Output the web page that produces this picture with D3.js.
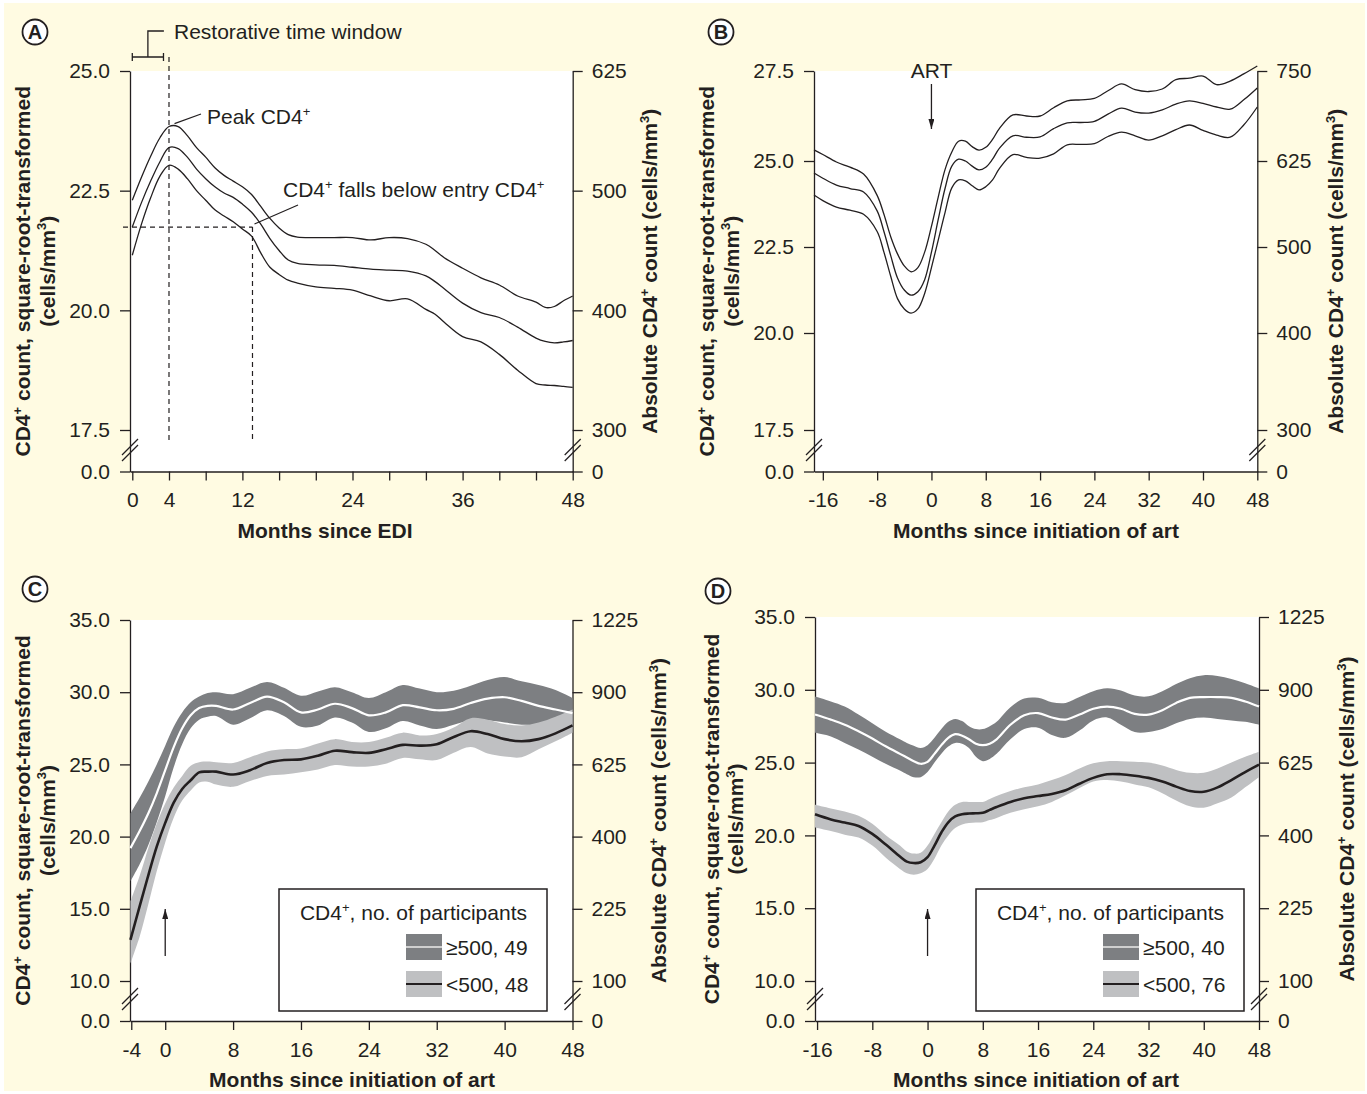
<!DOCTYPE html>
<meta charset="utf-8">
<style>
    body { margin: 0; background: #fff; }
    svg text { font-family: "Liberation Sans", Arial, Helvetica, sans-serif; fill: #231f20; }
</style>
<body>
<script src="https://cdn.jsdelivr.net/npm/d3@7/dist/d3.min.js"></script>
<script>
var width = 1367
var height = 1094
var ink = '#231f20'
var dark = '#7d7f82'
var light = '#bfc0c2'
var paper = '#fffbe2'
var fs = 21

// ---- A: months since EDI (upper limit, mean, lower limit)
var monthsA = [0, 1, 2, 3, 4, 5, 6, 7, 8, 9, 10, 11, 12, 13, 14, 15, 16, 17, 18, 20, 22, 24, 26, 28, 30, 32, 33, 34, 36, 38, 40, 42, 44, 45, 46, 47, 48]
var upperA = [22.30, 22.78, 23.22, 23.6, 23.84, 23.84, 23.65, 23.4, 23.2, 22.98, 22.82, 22.7, 22.58, 22.42, 22.17, 21.92, 21.72, 21.58, 21.53, 21.52, 21.52, 21.52, 21.47, 21.52, 21.5, 21.38, 21.25, 21.1, 20.88, 20.68, 20.53, 20.3, 20.17, 20.06, 20.08, 20.2, 20.3]
var meanA = [21.74, 22.25, 22.7, 23.1, 23.4, 23.38, 23.2, 22.95, 22.75, 22.58, 22.45, 22.36, 22.22, 22.05, 21.8, 21.5, 21.25, 21.05, 20.98, 20.95, 20.94, 20.9, 20.86, 20.84, 20.82, 20.72, 20.6, 20.45, 20.15, 19.95, 19.85, 19.65, 19.42, 19.35, 19.32, 19.34, 19.37]
var lowerA = [21.15, 21.8, 22.35, 22.8, 23.03, 22.95, 22.75, 22.5, 22.3, 22.1, 21.97, 21.85, 21.7, 21.55, 21.2, 20.9, 20.75, 20.63, 20.57, 20.49, 20.46, 20.42, 20.3, 20.2, 20.24, 20.02, 19.92, 19.75, 19.45, 19.34, 19.08, 18.75, 18.47, 18.44, 18.43, 18.41, 18.39]
var yTicksA = [0, 17.5, 20, 22.5, 25]
var rightLabelsA = ['0', '300', '400', '500', '625']
var xTicksA = [0, 4, 8, 12, 16, 20, 24, 28, 32, 36, 40, 44, 48]
var xLabelsA = [0, 4, 12, 24, 36, 48]
var peakMonthA = 4
var crossMonthA = 13.1
var windowA = [0, 3.4]

// ---- B: months since initiation of ART
var monthsB = [-17.3, -16, -14, -12, -10, -8, -7, -6, -5, -4, -3, -2, -1, 0, 1, 2, 3, 4, 5, 6, 7, 8, 9, 10, 12, 14, 16, 18, 20, 22, 24, 26, 28, 30, 32, 34, 36, 38, 40, 42, 44, 46, 48]
var upperB = [25.31, 25.18, 24.97, 24.82, 24.62, 24.0, 23.45, 22.8, 22.3, 21.95, 21.78, 21.9, 22.35, 23.1, 23.95, 24.75, 25.25, 25.55, 25.55, 25.4, 25.3, 25.38, 25.6, 25.9, 26.28, 26.25, 26.25, 26.48, 26.67, 26.7, 26.74, 26.95, 27.14, 26.98, 26.93, 27.0, 27.26, 27.3, 27.36, 27.12, 27.22, 27.42, 27.64]
var meanB = [24.65, 24.5, 24.3, 24.2, 24.1, 23.55, 22.95, 22.25, 21.6, 21.25, 21.1, 21.2, 21.55, 22.35, 23.3, 24.2, 24.85, 25.05, 25.0, 24.85, 24.74, 24.82, 25.05, 25.35, 25.7, 25.66, 25.67, 25.9, 26.06, 26.07, 26.1, 26.3, 26.47, 26.36, 26.33, 26.42, 26.58, 26.67, 26.6, 26.5, 26.44, 26.7, 27.03]
var lowerB = [24.01, 23.85, 23.66, 23.57, 23.45, 22.95, 22.35, 21.65, 21.0, 20.7, 20.58, 20.7, 21.15, 21.9, 22.7, 23.5, 24.22, 24.45, 24.42, 24.28, 24.16, 24.25, 24.45, 24.78, 25.18, 25.1, 25.08, 25.2, 25.45, 25.46, 25.48, 25.68, 25.8, 25.7, 25.58, 25.7, 25.87, 26.0, 25.85, 25.72, 25.66, 26.0, 26.5]
var yTicksB = [0, 17.5, 20, 22.5, 25, 27.5]
var rightLabelsB = ['0', '300', '400', '500', '625', '750']
var xTicksB = [-16, -8, 0, 8, 16, 24, 32, 40, 48]

// ---- C: entry CD4 >=500 (dark band, white mean) and <500 (light band, black mean)
var monthsC = [-4.1, -3, -2, -1, 0, 1, 2, 3, 4, 5, 6, 8, 10, 12, 14, 16, 18, 20, 22, 24, 26, 28, 30, 32, 34, 36, 38, 40, 42, 44, 46, 48]
var hiTopC = [21.6, 22.7, 23.8, 25.0, 26.3, 27.6, 28.6, 29.3, 29.7, 29.95, 30.0, 29.86, 30.3, 30.7, 30.3, 29.75, 30.05, 30.35, 30.0, 29.6, 30.0, 30.5, 30.25, 30.0, 30.1, 30.45, 30.85, 31.05, 30.75, 30.5, 30.15, 29.6]
var hiMeanC = [19.2, 20.4, 21.6, 23.0, 24.6, 26.2, 27.5, 28.4, 28.9, 29.05, 29.05, 28.8, 29.25, 29.7, 29.3, 28.6, 28.8, 29.2, 28.9, 28.4, 28.6, 29.1, 28.95, 28.75, 28.85, 29.25, 29.55, 29.65, 29.4, 29.05, 28.8, 28.55]
var hiLowC = [16.9, 18.1, 19.4, 21.0, 22.8, 24.8, 26.4, 27.5, 28.1, 28.3, 28.35, 27.75, 28.2, 28.75, 28.35, 27.6, 27.7, 28.25, 27.9, 27.25, 27.5, 28.0, 27.7, 27.45, 27.75, 28.05, 28.05, 27.9, 27.75, 27.7, 27.5, 27.5]
var loTopC = [15.5, 17.3, 19.2, 20.9, 22.3, 23.4, 24.2, 24.9, 25.15, 25.2, 25.15, 25.1, 25.5, 25.9, 26.05, 26.1, 26.45, 26.75, 26.55, 26.55, 26.85, 27.2, 27.0, 27.1, 27.55, 28.2, 28.1, 27.8, 27.7, 27.9, 28.3, 28.8]
var loMeanC = [12.85, 15.2, 17.3, 19.3, 20.95, 22.35, 23.3, 23.9, 24.45, 24.5, 24.5, 24.3, 24.6, 25.1, 25.3, 25.35, 25.6, 25.95, 25.85, 25.8, 26.05, 26.35, 26.3, 26.4, 26.9, 27.3, 27.1, 26.75, 26.6, 26.75, 27.15, 27.7]
var loLowC = [11.2, 13.1, 15.3, 17.6, 19.6, 21.3, 22.5, 23.2, 23.75, 23.8, 23.6, 23.45, 23.85, 24.2, 24.3, 24.45, 24.65, 24.95, 24.85, 24.85, 25.05, 25.45, 25.35, 25.3, 25.8, 26.2, 25.75, 25.55, 25.5, 26.05, 26.6, 27.2]
var legendC = ['\u2265500, 49', '<500, 48']
var xTicksC = [-4, 0, 8, 16, 24, 32, 40, 48]

// ---- D
var monthsD = [-16.3, -14, -12, -10, -8, -6, -4, -3, -2, -1, 0, 1, 2, 3, 4, 5, 6, 7, 8, 9, 10, 12, 14, 16, 18, 20, 22, 24, 26, 28, 30, 32, 34, 36, 38, 40, 42, 44, 46, 48]
var hiTopD = [29.54, 29.2, 28.85, 28.3, 27.7, 27.1, 26.6, 26.35, 26.15, 26.0, 26.2, 26.7, 27.3, 27.8, 28.0, 27.85, 27.5, 27.3, 27.3, 27.5, 27.8, 28.8, 29.4, 29.45, 29.15, 29.1, 29.5, 29.9, 30.1, 29.95, 29.6, 29.55, 29.9, 30.4, 30.8, 31.0, 30.95, 30.75, 30.45, 30.1]
var hiMeanD = [28.3, 27.95, 27.6, 27.15, 26.65, 26.1, 25.6, 25.35, 25.1, 24.92, 25.05, 25.6, 26.2, 26.7, 26.95, 26.85, 26.6, 26.3, 26.2, 26.3, 26.6, 27.6, 28.25, 28.4, 28.1, 27.95, 28.3, 28.7, 28.85, 28.7, 28.35, 28.3, 28.6, 29.1, 29.45, 29.5, 29.5, 29.45, 29.2, 28.85]
var hiLowD = [27.05, 26.8, 26.35, 25.9, 25.4, 24.9, 24.45, 24.2, 24.0, 24.0, 24.35, 25.0, 25.6, 26.1, 26.35, 26.3, 26.0, 25.4, 25.1, 25.25, 25.6, 26.6, 27.3, 27.4, 26.9, 26.7, 27.2, 27.9, 28.1, 27.6, 27.1, 27.1, 27.3, 27.7, 28.0, 28.1, 28.0, 27.9, 27.8, 27.6]
var loTopD = [22.1, 21.85, 21.65, 21.35, 20.8, 20.0, 19.3, 18.9, 18.75, 18.8, 19.3, 20.1, 20.9, 21.65, 22.1, 22.3, 22.3, 22.3, 22.3, 22.5, 22.7, 23.05, 23.3, 23.5, 23.8, 24.15, 24.6, 24.95, 25.1, 25.1, 25.05, 25.0, 24.8, 24.5, 24.3, 24.3, 24.6, 25.0, 25.4, 25.75]
var loMeanD = [21.45, 21.1, 20.88, 20.65, 20.1, 19.35, 18.55, 18.2, 18.1, 18.15, 18.5, 19.3, 20.2, 20.9, 21.3, 21.45, 21.5, 21.52, 21.55, 21.75, 21.95, 22.3, 22.55, 22.7, 22.85, 23.1, 23.55, 23.95, 24.2, 24.2, 24.1, 23.95, 23.7, 23.35, 23.05, 23.0, 23.3, 23.8, 24.35, 24.86]
var loLowD = [20.55, 20.3, 20.05, 19.85, 19.3, 18.45, 17.7, 17.4, 17.3, 17.4, 17.7, 18.4, 19.3, 20.0, 20.5, 20.75, 20.85, 20.88, 20.9, 21.05, 21.2, 21.55, 21.8, 22.0, 22.3, 22.75, 23.25, 23.7, 23.8, 23.7, 23.5, 23.3, 22.9, 22.4, 22.0, 21.9, 22.2, 22.6, 23.3, 24.0]
var legendD = ['\u2265500, 40', '<500, 76']
var xTicksD = [-16, -8, 0, 8, 16, 24, 32, 40, 48]

var yTicksCD = [0, 10, 15, 20, 25, 30, 35]
var rightTicksCD = [0, 100, 225, 400, 625, 900, 1225]

// ---- scales
var xA = d3.scaleLinear().domain([-0.25, 48]).range([130, 572.7])
var yA = d3.scaleLinear().domain([0, 17.5, 25]).range([471.5, 430, 71])
var xB = d3.scaleLinear().domain([-17.3, 48]).range([814, 1257.3])
var yB = d3.scaleLinear().domain([0, 17.5, 20, 22.5, 25, 27.5]).range([471.5, 430, 333, 247, 161, 71])
var xC = d3.scaleLinear().domain([-4.15, 48]).range([130, 572.5])
var yC = d3.scaleLinear().domain([0, 10, 35]).range([1021, 981, 620])
var xD = d3.scaleLinear().domain([-16.3, 48]).range([815, 1259])
var yD = d3.scaleLinear().domain([0, 10, 35]).range([1021, 981, 617])
var rC = d3.scalePow().exponent(0.5).domain([0, 100, 1225]).range(yC.range())
var rD = d3.scalePow().exponent(0.5).domain([0, 100, 1225]).range(yD.range())

var svg = d3.select('body').append('svg')
    .attr('width', width)
    .attr('height', height)
    .attr('font-family', '"Liberation Sans", Arial, Helvetica, sans-serif')

svg.append('rect').attr('width', width).attr('height', height).attr('fill', '#fff')
svg.append('rect').attr('x', 4).attr('y', 3).attr('width', 1361).attr('height', 1088).attr('fill', paper)

var defs = svg.append('defs')
defs.append('marker')
    .attr('id', 'head')
    .attr('viewBox', '0 0 10 6')
    .attr('refX', 10).attr('refY', 3)
    .attr('markerWidth', 10).attr('markerHeight', 6)
    .attr('markerUnits', 'userSpaceOnUse')
    .attr('orient', 'auto')
    .append('path').attr('d', 'M0,0L10,3L0,6Z').attr('fill', ink)

// text with superscript parts: [[text], [text, true]]
function rich(t, parts, size) {
    var up = false
    parts.forEach(function (p) {
        var s = t.append('tspan').text(p[0])
        if (p[1]) {
            s.attr('font-size', Math.round(size * 0.62)).attr('dy', -size * 0.4)
            up = true
        } else if (up) {
            s.attr('dy', size * 0.4)
            up = false
        }
    })
    return t
}

function styleAxis(g) {
    g.attr('font-size', fs).attr('font-family', null).attr('color', ink)
    g.selectAll('path, line').attr('stroke-width', 1.3)
}

function breakMark(x, y) {
    [-3, 3].forEach(function (o) {
        svg.append('line')
            .attr('x1', x - 8).attr('y1', y + o + 8)
            .attr('x2', x + 8).attr('y2', y + o - 8)
            .attr('stroke', ink).attr('stroke-width', 1.2)
    })
}

function panel(p) {
    var x0 = p.x.range()[0], x1 = p.x.range()[1]
    var yr = p.y.range(), yb = yr[0], yt = yr[yr.length - 1]

    svg.append('rect').attr('x', x0).attr('y', yt)
        .attr('width', x1 - x0).attr('height', yb - yt).attr('fill', '#fff')

    svg.append('g').attr('transform', 'translate(' + x0 + ',0)')
        .call(d3.axisLeft(p.y).tickValues(p.yTicks).tickSize(10).tickSizeOuter(0)
            .tickPadding(10).tickFormat(d3.format('.1f')))
        .call(styleAxis)

    svg.append('g').attr('transform', 'translate(' + x1 + ',0)')
        .call(d3.axisRight(p.yRight).tickValues(p.rightTicks).tickSize(10).tickSizeOuter(0)
            .tickPadding(9).tickFormat(p.rightFormat))
        .call(styleAxis)

    svg.append('g').attr('transform', 'translate(0,' + yb + ')')
        .call(d3.axisBottom(p.x).tickValues(p.xTicks).tickSize(9).tickSizeOuter(0)
            .tickPadding(12).tickFormat(function (d) {
                return !p.xLabels || p.xLabels.indexOf(d) >= 0 ? String(d) : ''
            }))
        .call(styleAxis)

    breakMark(x0, p.breakY)
    breakMark(x1, p.breakY)

    var cy = (yb + yt) / 2
    rich(svg.append('text').attr('font-size', fs).attr('font-weight', 'bold')
        .attr('text-anchor', 'middle')
        .attr('transform', 'translate(' + p.titleX[0] + ',' + cy + ') rotate(-90)'),
        [['CD4'], ['+', true], [' count, square-root-transformed']], fs)
    rich(svg.append('text').attr('font-size', fs).attr('font-weight', 'bold')
        .attr('text-anchor', 'middle')
        .attr('transform', 'translate(' + p.titleX[1] + ',' + cy + ') rotate(-90)'),
        [['(cells/mm'], ['3', true], [')']], fs)
    rich(svg.append('text').attr('font-size', fs).attr('font-weight', 'bold')
        .attr('text-anchor', 'middle')
        .attr('transform', 'translate(' + p.rightTitleX + ',' + cy + ') rotate(-90)'),
        [['Absolute CD4'], ['+', true], [' count (cells/mm'], ['3', true], [')']], fs)

    svg.append('text').attr('font-size', fs).attr('font-weight', 'bold')
        .attr('text-anchor', 'middle')
        .attr('x', p.xTitle[1]).attr('y', p.xTitle[2])
        .text(p.xTitle[0])

    var g = svg.append('g')
    g.append('circle').attr('cx', p.letter[1]).attr('cy', p.letter[2]).attr('r', 12.5)
        .attr('fill', '#fff').attr('stroke', ink).attr('stroke-width', 1.8)
    g.append('text').attr('x', p.letter[1]).attr('y', p.letter[2] + 7)
        .attr('text-anchor', 'middle').attr('font-size', 20).attr('font-weight', 'bold')
        .text(p.letter[0])
}

function lineOf(p, months, vals, color, w) {
    svg.append('path')
        .datum(months.map(function (m, i) { return [m, vals[i]] }))
        .attr('fill', 'none').attr('stroke', color).attr('stroke-width', w)
        .attr('d', d3.line().curve(d3.curveCatmullRom)
            .x(function (d) { return p.x(d[0]) })
            .y(function (d) { return p.y(d[1]) }))
}

function bandOf(p, months, lo, hi, color) {
    svg.append('path')
        .datum(months.map(function (m, i) { return [m, lo[i], hi[i]] }))
        .attr('fill', color)
        .attr('d', d3.area().curve(d3.curveCatmullRom)
            .x(function (d) { return p.x(d[0]) })
            .y0(function (d) { return p.y(d[1]) })
            .y1(function (d) { return p.y(d[2]) }))
}

function legend(box, labels) {
    svg.append('rect').attr('x', box[0]).attr('y', box[1]).attr('width', box[2]).attr('height', box[3])
        .attr('fill', '#fff').attr('stroke', ink).attr('stroke-width', 1.5)
    var right = box[0] + box[2] - 20
    rich(svg.append('text').attr('x', right).attr('y', box[1] + 31).attr('text-anchor', 'end')
        .attr('font-size', fs), [['CD4'], ['+', true], [', no. of participants']], fs)
    var sx = right - 121
    var rows = [[dark, '#cfcfcf', 1.8], [light, ink, 1.8]]
    rows.forEach(function (r, i) {
        var top = box[1] + 45 + i * 37
        svg.append('rect').attr('x', sx).attr('y', top).attr('width', 36).attr('height', 26).attr('fill', r[0])
        svg.append('line').attr('x1', sx).attr('x2', sx + 36).attr('y1', top + 13).attr('y2', top + 13)
            .attr('stroke', r[1]).attr('stroke-width', r[2])
        svg.append('text').attr('x', sx + 40).attr('y', top + 21).attr('font-size', fs).text(labels[i])
    })
}

function arrow(x, y1, y2) {
    svg.append('line').attr('x1', x).attr('x2', x).attr('y1', y1).attr('y2', y2)
        .attr('stroke', ink).attr('stroke-width', 1.3).attr('marker-end', 'url(#head)')
}

// ---------- panel A
var pA = {
    x: xA, y: yA, yTicks: yTicksA, yRight: yA, rightTicks: yTicksA,
    rightFormat: function (d, i) { return rightLabelsA[i] },
    xTicks: xTicksA, xLabels: xLabelsA, breakY: 450,
    titleX: [30, 54.5], rightTitleX: 657,
    xTitle: ['Months since EDI', 325, 538], letter: ['A', 35, 32]
}
panel(pA)

var dash = '5,4'
var entryA = meanA[0]
svg.append('line').attr('x1', xA(peakMonthA)).attr('x2', xA(peakMonthA)).attr('y1', 57).attr('y2', 443)
    .attr('stroke', ink).attr('stroke-width', 1.2).attr('stroke-dasharray', dash)
svg.append('line').attr('x1', 123).attr('x2', xA(crossMonthA)).attr('y1', yA(entryA)).attr('y2', yA(entryA))
    .attr('stroke', ink).attr('stroke-width', 1.2).attr('stroke-dasharray', dash)
svg.append('line').attr('x1', xA(crossMonthA)).attr('x2', xA(crossMonthA)).attr('y1', yA(entryA)).attr('y2', 443)
    .attr('stroke', ink).attr('stroke-width', 1.2).attr('stroke-dasharray', dash)

lineOf(pA, monthsA, upperA, ink, 1.3)
lineOf(pA, monthsA, meanA, ink, 1.3)
lineOf(pA, monthsA, lowerA, ink, 1.3)

// restorative time window bracket
var wx0 = xA(windowA[0]), wx1 = xA(windowA[1]), wm = (wx0 + wx1) / 2
svg.append('path').attr('fill', 'none').attr('stroke', ink).attr('stroke-width', 1.3)
    .attr('d', 'M' + wx0 + ',57H' + wx1 + 'M' + wx0 + ',53V61M' + wx1 + ',53V61M' + wm + ',57V31H' + (wm + 16))
svg.append('text').attr('x', 174).attr('y', 39).attr('font-size', fs).text('Restorative time window')

svg.append('line').attr('x1', xA(4.6)).attr('y1', yA(23.88) - 1).attr('x2', 201).attr('y2', 114)
    .attr('stroke', ink).attr('stroke-width', 1.2)
rich(svg.append('text').attr('x', 207).attr('y', 124).attr('font-size', fs), [['Peak CD4'], ['+', true]], fs)

svg.append('line').attr('x1', xA(crossMonthA) + 2).attr('y1', yA(entryA) - 3).attr('x2', 298).attr('y2', 205)
    .attr('stroke', ink).attr('stroke-width', 1.2)
rich(svg.append('text').attr('x', 283).attr('y', 197).attr('font-size', fs),
    [['CD4'], ['+', true], [' falls below entry CD4'], ['+', true]], fs)

// ---------- panel B
var pB = {
    x: xB, y: yB, yTicks: yTicksB, yRight: yB, rightTicks: yTicksB,
    rightFormat: function (d, i) { return rightLabelsB[i] },
    xTicks: xTicksB, breakY: 450,
    titleX: [714, 738.5], rightTitleX: 1343,
    xTitle: ['Months since initiation of art', 1036, 538], letter: ['B', 721, 32]
}
panel(pB)
lineOf(pB, monthsB, upperB, ink, 1.3)
lineOf(pB, monthsB, meanB, ink, 1.3)
lineOf(pB, monthsB, lowerB, ink, 1.3)
svg.append('text').attr('x', xB(0)).attr('y', 78).attr('text-anchor', 'middle').attr('font-size', fs).text('ART')
arrow(xB(0), 84, 129)

// ---------- panel C
var pC = {
    x: xC, y: yC, yTicks: yTicksCD, yRight: rC, rightTicks: rightTicksCD,
    rightFormat: d3.format('d'),
    xTicks: xTicksC, breakY: 999,
    titleX: [30, 54.5], rightTitleX: 666,
    xTitle: ['Months since initiation of art', 352, 1087], letter: ['C', 35, 589]
}
panel(pC)
bandOf(pC, monthsC, hiLowC, hiTopC, dark)
bandOf(pC, monthsC, loLowC, loTopC, light)
lineOf(pC, monthsC, hiMeanC, '#fff', 2.2)
lineOf(pC, monthsC, loMeanC, ink, 2.6)
arrow(xC(0), 956, 909)
legend([279, 889, 268, 122], legendC)

// ---------- panel D
var pD = {
    x: xD, y: yD, yTicks: yTicksCD, yRight: rD, rightTicks: rightTicksCD,
    rightFormat: d3.format('d'),
    xTicks: xTicksD, breakY: 999,
    titleX: [719, 743], rightTitleX: 1354,
    xTitle: ['Months since initiation of art', 1036, 1087], letter: ['D', 718, 591]
}
panel(pD)
bandOf(pD, monthsD, hiLowD, hiTopD, dark)
bandOf(pD, monthsD, loLowD, loTopD, light)
lineOf(pD, monthsD, hiMeanD, '#fff', 2.2)
lineOf(pD, monthsD, loMeanD, ink, 2.6)
arrow(xD(0), 956, 909)
legend([976, 889, 268, 122], legendD)
</script>
</body>
